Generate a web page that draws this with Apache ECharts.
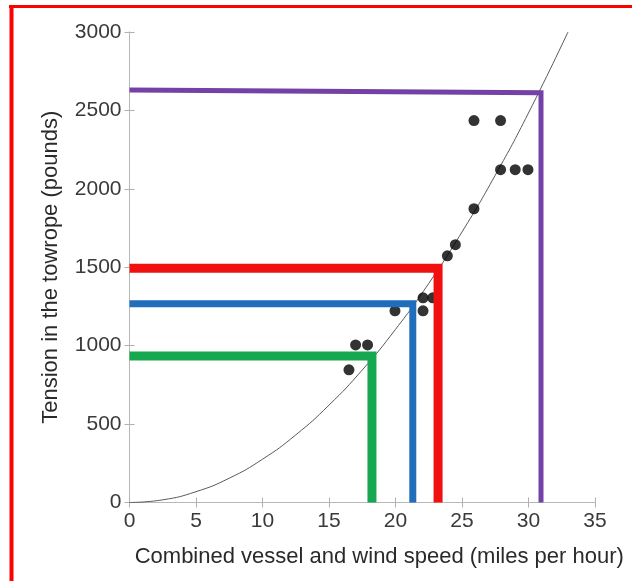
<!DOCTYPE html>
<html>
<head>
<meta charset="utf-8">
<script src="https://cdn.jsdelivr.net/npm/echarts@6/dist/echarts.min.js"></script>
<style>
html,body{margin:0;padding:0;background:#fff;}
#chart{width:632px;height:581px;}
</style>
</head>
<body>
<div id="chart"></div>
<script>
// Fitted curve (speed mph, tension lb)
const curveSpeed = [0, 2.5, 5, 7.5, 10, 12.5, 15, 17.5, 20, 22.5, 25, 27.5, 30, 32.97];
const curveTension = [0, 17, 69, 155, 276, 431, 621, 845, 1104, 1397, 1725, 2087, 2484, 3000];

// Measured points
const pointSpeed = [25.9, 27.9, 27.9, 29.0, 29.96, 25.9, 24.5, 23.9, 22.07, 22.8, 22.07, 19.96, 17.0, 17.9, 16.5];
const pointTension = [2435, 2435, 2122, 2122, 2122, 1873, 1644, 1573, 1305, 1305, 1222, 1222, 1005, 1005, 846];

// Reference lines: [speed at corner, tension at left end, tension at corner]
const greenLine = [18.23, 934, 934];
const blueLine = [21.3, 1267, 1267];
const redLine = [23.2, 1494, 1494];
const purpleLine = [30.94, 2630, 2612];

const xTicks = [0, 5, 10, 15, 20, 25, 30, 35];
const yTicks = [0, 500, 1000, 1500, 2000, 2500, 3000];

const FONT = '"Liberation Sans", Arial, Helvetica, sans-serif';
const chart = echarts.init(document.getElementById('chart'), null, {renderer: 'canvas'});

function refLine(name, d, color, width) {
  return {
    name: name, type: 'line', xAxisIndex: 0, yAxisIndex: 0,
    data: [[0, d[1]], [d[0], d[2]], [d[0], 0]],
    symbol: 'none', z: 5,
    lineStyle: {color: color, width: width, join: 'miter', cap: 'butt'},
    silent: true
  };
}

const axisLineStyle = {show: true, lineStyle: {color: '#b8b8b8', width: 1}};
const tickStyle = {show: true, inside: true, length: 5, lineStyle: {color: '#b0b0b0', width: 1}};
const plain = v => String(v);

chart.setOption({
  backgroundColor: '#ffffff',
  animation: false,
  grid: {left: 129.5, right: 37, top: 32, bottom: 78.5, containLabel: false},
  xAxis: [{
    type: 'value', min: xTicks[0], max: xTicks[xTicks.length - 1], interval: 5,
    position: 'bottom',
    axisLine: axisLineStyle, axisTick: tickStyle, splitLine: {show: false},
    axisLabel: {margin: 8, fontSize: 21, color: '#3a3a3a', fontFamily: FONT, formatter: plain},
    name: 'Combined vessel and wind speed (miles per hour)',
    nameLocation: 'middle', nameGap: 43,
    nameTextStyle: {fontSize: 22, color: '#2a2a2a', fontFamily: FONT, padding: [0, 0, 0, 34]}
  }, {
    type: 'value', min: xTicks[0], max: xTicks[xTicks.length - 1], interval: 5,
    position: 'top',
    axisLine: axisLineStyle, axisTick: tickStyle, splitLine: {show: false},
    axisLabel: {show: false}
  }],
  yAxis: [{
    type: 'value', min: yTicks[0], max: yTicks[yTicks.length - 1], interval: 500,
    position: 'left',
    axisLine: axisLineStyle, axisTick: tickStyle, splitLine: {show: false},
    axisLabel: {margin: 8, fontSize: 21, color: '#3a3a3a', fontFamily: FONT, formatter: plain},
    name: 'Tension in the towrope (pounds)',
    nameLocation: 'middle', nameGap: 68,
    nameTextStyle: {fontSize: 22, color: '#2a2a2a', fontFamily: FONT}
  }, {
    type: 'value', min: yTicks[0], max: yTicks[yTicks.length - 1], interval: 500,
    position: 'right',
    axisLine: axisLineStyle, axisTick: tickStyle, splitLine: {show: false},
    axisLabel: {show: false}
  }],
  series: [{
    name: 'curve', type: 'line', xAxisIndex: 0, yAxisIndex: 0,
    data: curveSpeed.map((v, i) => [v, curveTension[i]]),
    smooth: true, symbol: 'none', z: 2, clip: true,
    lineStyle: {color: '#5a5a5a', width: 1}
  }, {
    name: 'points', type: 'scatter', xAxisIndex: 0, yAxisIndex: 0,
    data: pointSpeed.map((v, i) => [v, pointTension[i]]),
    symbol: 'circle', symbolSize: 11, z: 3,
    itemStyle: {color: '#000000'}
  },
    refLine('purple', purpleLine, '#7442a6', 5),
    refLine('green', greenLine, '#16a850', 9),
    refLine('blue', blueLine, '#1f6dbb', 7),
    refLine('red', redLine, '#f01010', 9)
  ],
  graphic: [{
    type: 'line', shape: {x1: 9, y1: 6.5, x2: 632, y2: 6.5},
    style: {stroke: '#ff0000', lineWidth: 3}, z: 100
  }, {
    type: 'line', shape: {x1: 11.5, y1: 5, x2: 11.5, y2: 581},
    style: {stroke: '#ff0000', lineWidth: 4}, z: 100
  }]
});
</script>
</body>
</html>
